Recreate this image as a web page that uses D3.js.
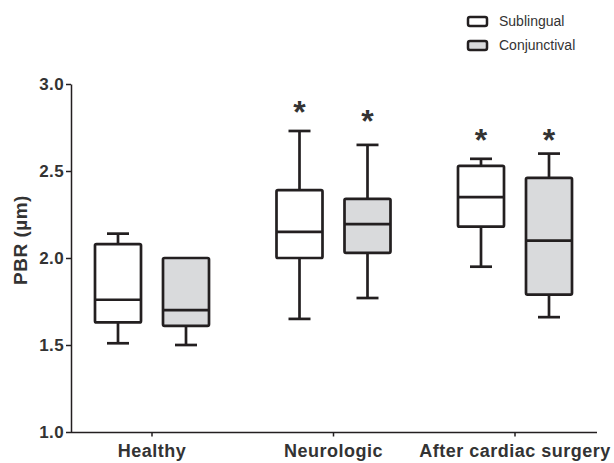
<!DOCTYPE html>
<html>
<head>
<meta charset="utf-8">
<script src="https://cdn.jsdelivr.net/npm/d3@7"></script>
<style>
  body { margin: 0; background: #fff; }
  text { font-family: "Liberation Sans", Arial, sans-serif; fill: #333; }
</style>
</head>
<body>
<svg id="chart" width="614" height="463"></svg>
<script>
// groups and series
var groups = ["Healthy", "Neurologic", "After cardiac surgery"];
var series = ["Sublingual", "Conjunctival"];

// box stats per group, [sublingual, conjunctival]
var whiskerLow  = [[1.51, 1.50], [1.65, 1.77], [1.95, 1.66]];
var q1          = [[1.63, 1.61], [2.00, 2.03], [2.18, 1.79]];
var median      = [[1.76, 1.70], [2.15, 2.195], [2.35, 2.10]];
var q3          = [[2.08, 2.00], [2.39, 2.34], [2.53, 2.46]];
var whiskerHigh = [[2.14, 2.00], [2.73, 2.65], [2.57, 2.60]];

// significance stars (value level of the star), null = none
var starLevel = [[null, null], [2.86, 2.81], [2.70, 2.70]];

var yTicks = [1.0, 1.5, 2.0, 2.5, 3.0];

var fills = {"Sublingual": "#ffffff", "Conjunctival": "#d9dadc"};
var ink = "#231f20";

var svg = d3.select("#chart");

var y = d3.scaleLinear().domain([1, 3]).range([432, 84]);
var x = d3.scalePoint().domain(groups).range([152, 515]);
var xs = d3.scalePoint().domain(series).range([-34, 34]);

var boxW = 46, capW = 22;

// y axis
var yAxis = svg.append("g")
    .attr("transform", "translate(71,0)")
    .call(d3.axisLeft(y).tickValues(yTicks).tickFormat(d3.format(".1f")).tickSize(5).tickSizeOuter(0));
yAxis.select(".domain").attr("stroke", ink).attr("stroke-width", 1.5);
yAxis.selectAll(".tick line").attr("stroke", ink).attr("stroke-width", 1.5);
yAxis.selectAll(".tick text")
    .attr("x", -7)
    .style("font-size", "17px").style("font-weight", "bold")
    .style("letter-spacing", "0.4px")
    .style("font-family", "Liberation Sans, Arial, sans-serif").attr("fill", "#333");

// x axis
var xAxis = svg.append("g")
    .attr("transform", "translate(0,432.5)");
xAxis.append("line")
    .attr("x1", 71).attr("x2", 597)
    .attr("stroke", ink).attr("stroke-width", 1.5);
xAxis.selectAll(".tk")
    .data(groups)
    .enter().append("line")
    .attr("x1", function(d) { return x(d); })
    .attr("x2", function(d) { return x(d); })
    .attr("y1", 0).attr("y2", 4)
    .attr("stroke", ink).attr("stroke-width", 1.5);
xAxis.selectAll(".lbl")
    .data(groups)
    .enter().append("text")
    .attr("x", function(d) { return x(d); })
    .attr("y", 24)
    .attr("text-anchor", "middle")
    .style("font-size", "18px").style("font-weight", "bold")
    .style("letter-spacing", "0.5px")
    .text(function(d) { return d; });

// y label
svg.append("text")
    .attr("transform", "translate(27,240) rotate(-90)")
    .attr("text-anchor", "middle")
    .style("font-size", "19px").style("font-weight", "bold")
    .style("letter-spacing", "0.5px")
    .text("PBR (µm)");

// boxes
var boxes = [];
groups.forEach(function(g, gi) {
    series.forEach(function(s, si) {
        boxes.push({
            group: g, series: s,
            lo: whiskerLow[gi][si], q1: q1[gi][si], med: median[gi][si],
            q3: q3[gi][si], hi: whiskerHigh[gi][si], star: starLevel[gi][si]
        });
    });
});

var bx = svg.selectAll(".box")
    .data(boxes)
    .enter().append("g")
    .attr("class", "box")
    .attr("transform", function(d) { return "translate(" + (x(d.group) + xs(d.series)) + ",0)"; })
    .attr("stroke", ink).attr("stroke-width", 2.7);

// whiskers
bx.append("line")
    .attr("x1", 0).attr("x2", 0)
    .attr("y1", function(d) { return y(d.hi); })
    .attr("y2", function(d) { return y(d.q3); });
bx.append("line")
    .attr("x1", 0).attr("x2", 0)
    .attr("y1", function(d) { return y(d.q1); })
    .attr("y2", function(d) { return y(d.lo); });
bx.filter(function(d) { return d.hi > d.q3; }).append("line")
    .attr("x1", -capW / 2).attr("x2", capW / 2)
    .attr("y1", function(d) { return y(d.hi); })
    .attr("y2", function(d) { return y(d.hi); });
bx.append("line")
    .attr("x1", -capW / 2).attr("x2", capW / 2)
    .attr("y1", function(d) { return y(d.lo); })
    .attr("y2", function(d) { return y(d.lo); });

// box
bx.append("rect")
    .attr("x", -boxW / 2)
    .attr("width", boxW)
    .attr("y", function(d) { return y(d.q3); })
    .attr("height", function(d) { return y(d.q1) - y(d.q3); })
    .attr("rx", 1.5)
    .attr("fill", function(d) { return fills[d.series]; });
bx.append("line")
    .attr("x1", -boxW / 2).attr("x2", boxW / 2)
    .attr("y1", function(d) { return y(d.med); })
    .attr("y2", function(d) { return y(d.med); });

// stars
bx.filter(function(d) { return d.star != null; }).append("text")
    .attr("stroke", "none")
    .attr("text-anchor", "middle")
    .attr("y", function(d) { return y(d.star) + 15; })
    .style("font-size", "32px").style("font-weight", "bold")
    .text("*");

// legend
var legend = svg.selectAll(".leg")
    .data(series)
    .enter().append("g")
    .attr("class", "leg")
    .attr("transform", function(d, i) { return "translate(468," + (17 + i * 24) + ")"; });
legend.append("rect")
    .attr("width", 19).attr("height", 9).attr("rx", 2)
    .attr("fill", function(d) { return fills[d]; })
    .attr("stroke", ink).attr("stroke-width", 2.5);
legend.append("text")
    .attr("x", 31).attr("y", 9)
    .style("font-size", "14px")
    .text(function(d) { return d; });
</script>
</body>
</html>
